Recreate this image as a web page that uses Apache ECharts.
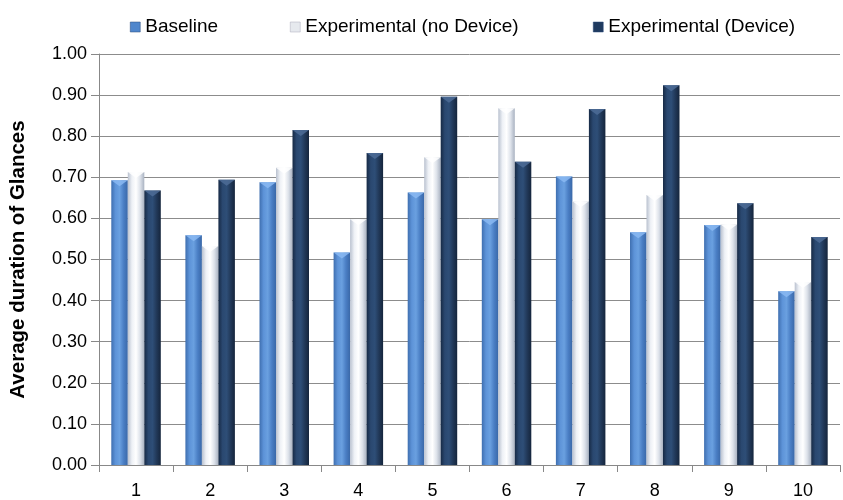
<!DOCTYPE html>
<html><head><meta charset="utf-8">
<script src="https://cdn.jsdelivr.net/npm/echarts@6/dist/echarts.min.js"></script>
<style>html,body{margin:0;padding:0;background:#fff}#c{width:843px;height:500px}</style>
</head><body><div id="c"></div>
<script>
const categories = ['1','2','3','4','5','6','7','8','9','10'];
const baseline = [0.693, 0.559, 0.688, 0.517, 0.663, 0.598, 0.702, 0.566, 0.584, 0.423];
const noDevice = [0.713, 0.533, 0.723, 0.598, 0.749, 0.868, 0.642, 0.657, 0.585, 0.445];
const device   = [0.668, 0.694, 0.815, 0.759, 0.896, 0.738, 0.866, 0.924, 0.637, 0.555];
const seriesNames = ['Baseline', 'Experimental (no Device)', 'Experimental (Device)'];

const FONT = "'Liberation Sans',Arial,sans-serif";
function grad(stops){
  return new echarts.graphic.LinearGradient(0,0,1,0, stops.map((c,i)=>({offset:i/(stops.length-1), color:c})));
}
const colBase = grad(['#3f6fb0','#5d93d8','#6aa0e0','#4a7ec4','#3a68a8']);
const colNo = grad(['#b9c1cf','#eef1f6','#ffffff','#dde2ea','#a9b2c1']);
const colDev = grad(['#172a45','#2a4870','#2e4e77','#213858','#15253c']);
const capCols = ['#8ab8f2','#ffffff','#4d6c96'];
const solid = ['#4f86cc','#e6e9ee','#1f3a5f'];
const BW = 16.5;

const chart = echarts.init(document.getElementById('c'));
function legendAt(name, left, i){
  return {data:[{name:name, itemStyle:{color:solid[i], borderColor: i===1?'#aab':'#2a4a7a', borderWidth:0.5}}],
    left:left, top:12, itemWidth:10, itemHeight:10, itemGap:4, icon:'rect',
    textStyle:{fontFamily:FONT, fontSize:19, color:'#000', lineHeight:20}};
}
function capSeries(name, data, i){
  return {name:name, type:'pictorialBar', data:data, barWidth:BW, barGap:'0%',
    symbol:'path://M0,0 L10,0 L5,4 Z', symbolSize:[BW, 6], symbolPosition:'end',
    symbolOffset:[0, 0], z:5, silent:true,
    itemStyle:{color:capCols[i], opacity:0.85}};
}
chart.setOption({
  animation:false,
  legend:[legendAt(seriesNames[0],125,0), legendAt(seriesNames[1],285,1), legendAt(seriesNames[2],588,2)],
  grid:{left:99, right:3, top:54, bottom:33.5},
  xAxis:{type:'category', data:categories,
    axisLine:{lineStyle:{color:'#888'}},
    axisTick:{show:true, length:7, lineStyle:{color:'#888'}},
    axisLabel:{fontFamily:FONT, fontSize:18, color:'#000', margin:17}},
  yAxis:{type:'value', min:0, max:1, interval:0.1,
    name:'Average duration of Glances', nameLocation:'middle', nameGap:70, nameRotate:90,
    nameTextStyle:{fontFamily:FONT, fontSize:20.5, fontWeight:'bold', color:'#000'},
    axisLine:{show:true, lineStyle:{color:'#888'}},
    axisTick:{show:true, length:8, lineStyle:{color:'#888'}},
    splitLine:{lineStyle:{color:'#8c8c8c', width:1}},
    axisLabel:{fontFamily:FONT, fontSize:18, color:'#000', margin:12, formatter:v=>v.toFixed(2)}},
  series:[
    {name:seriesNames[0], type:'bar', data:baseline, barWidth:BW, barGap:'0%', itemStyle:{color:colBase}},
    {name:seriesNames[1], type:'bar', data:noDevice, barWidth:BW, barGap:'0%', itemStyle:{color:colNo}},
    {name:seriesNames[2], type:'bar', data:device, barWidth:BW, barGap:'0%', itemStyle:{color:colDev}},
    capSeries('cap0', baseline, 0),
    capSeries('cap1', noDevice, 1),
    capSeries('cap2', device, 2)
  ]
});
</script></body></html>
